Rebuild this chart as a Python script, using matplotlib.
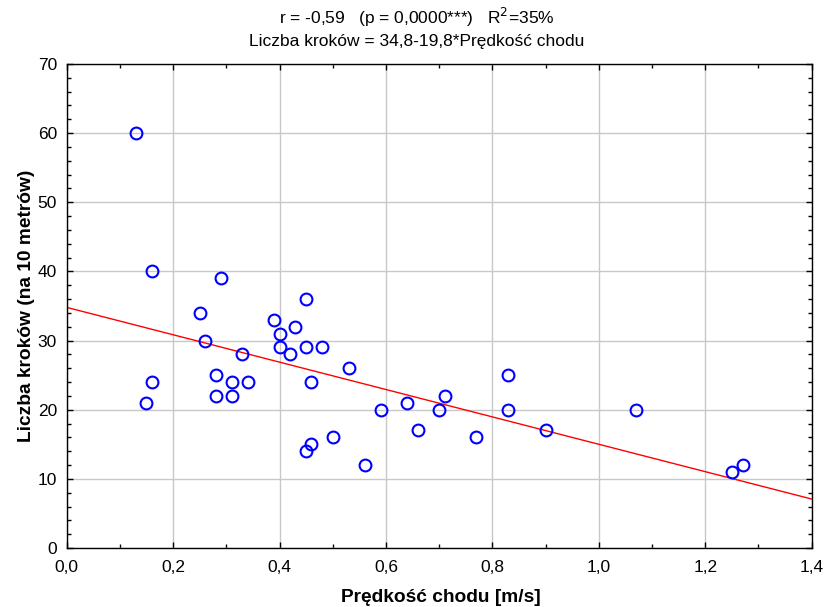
import matplotlib
matplotlib.use("Agg")
import matplotlib.pyplot as plt
import numpy as np
from matplotlib.ticker import MultipleLocator, FuncFormatter

plt.rcParams['font.family'] = ['Liberation Sans', 'DejaVu Sans']

# walking speed [m/s] and number of steps per 10 m
speed = [0.13, 0.16, 0.29, 0.25, 0.26, 0.33, 0.16, 0.15, 0.28, 0.31,
         0.34, 0.28, 0.31, 0.39, 0.40, 0.40, 0.42, 0.43, 0.45, 0.45,
         0.48, 0.46, 0.53, 0.45, 0.46, 0.50, 0.56, 0.59, 0.64, 0.66,
         0.70, 0.71, 0.77, 0.83, 0.83, 0.90, 1.07, 1.25, 1.27]
steps = [60, 40, 39, 34, 30, 28, 24, 21, 25, 24,
         24, 22, 22, 33, 31, 29, 28, 32, 36, 29,
         29, 24, 26, 14, 15, 16, 12, 20, 21, 17,
         20, 22, 16, 25, 20, 17, 20, 11, 12]

# regression line: Liczba krokow = 34.8 - 19.8 * speed
intercept = 34.8
slope = -19.8

fig = plt.figure(figsize=(8.26, 6.07), dpi=100)
ax = fig.add_axes([0.0807, 0.0972, 0.9020, 0.7974])

ax.grid(True, color='#c8c8c8', linewidth=1.0, zorder=0)
ax.set_axisbelow(True)

xl = np.array([0.0, 1.4])
ax.plot(xl, intercept + slope * xl, color='red', linewidth=1.0, zorder=2)
ax.plot(speed, steps, linestyle='none', marker='o', markersize=8.5,
        markerfacecolor='none', markeredgecolor='#0000ff', markeredgewidth=1.5,
        zorder=3)

ax.set_xlim(0, 1.4)
ax.set_ylim(0, 70)
ax.xaxis.set_major_locator(MultipleLocator(0.2))
ax.xaxis.set_minor_locator(MultipleLocator(0.1))
ax.yaxis.set_major_locator(MultipleLocator(10))
ax.yaxis.set_minor_locator(MultipleLocator(2))
ax.xaxis.set_major_formatter(FuncFormatter(lambda v, p: f"{v:.1f}".replace('.', ',')))
ax.tick_params(which='both', direction='in', top=True, right=True,
               labelsize=12.5, width=1.0)
ax.tick_params(which='major', length=4)
ax.tick_params(which='minor', length=3)
ax.tick_params(axis='x', which='major', pad=9)
ax.tick_params(axis='y', which='major', pad=7)
for s in ax.spines.values():
    s.set_linewidth(1.0)

ax.set_xlabel('Prędkość chodu [m/s]', fontsize=13.8, fontweight='bold')
ax.set_ylabel('Liczba kroków (na 10 metrów)', fontsize=13.8, fontweight='bold')
ax.xaxis.set_label_coords(0.502, -0.085)
ax.yaxis.set_label_coords(-0.042, 0.5)

fig.text(0.504, 0.972, r'r = -0,59   (p = 0,0000***)   R$^2$=35%',
         ha='center', va='center', fontsize=12.5)
fig.text(0.504, 0.932, 'Liczba kroków = 34,8-19,8*Prędkość chodu',
         ha='center', va='center', fontsize=12.5)

plt.savefig('out.png', dpi=100)
